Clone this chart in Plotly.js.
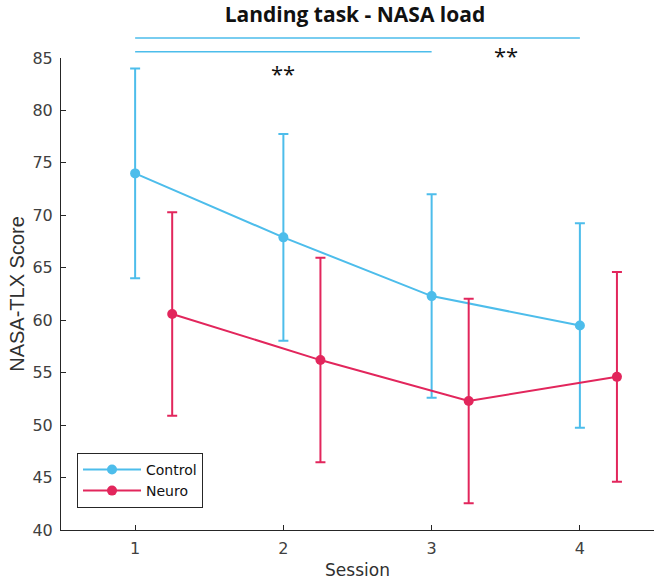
<!DOCTYPE html>
<html>
<head>
<meta charset="utf-8">
<script src="https://cdn.plot.ly/plotly-3.0.1.min.js"></script>
<style>
  body { margin: 0; background: #fff; }
  #graph { width: 661px; height: 584px; }
</style>
</head>
<body>
<div id="graph"></div>
<script>
// values
const sessions = [1, 2, 3, 4]
const neuroOffset = 0.25

const controlMean = [74.0, 67.9, 62.3, 59.5]
const controlErr = [10.0, 9.85, 9.7, 9.75]

const neuroMean = [60.6, 56.2, 52.3, 54.6]
const neuroErr = [9.7, 9.75, 9.75, 10.0]

// significance bars: from session, to session, height (score units)
const sigFrom = [1, 1]
const sigTo = [4, 3]
const sigLevel = [86.9, 85.6]
// star labels: session position and height
const starX = [2, 3.5]
const starY = [83.6, 85.3]
const starText = ['**', '**']

const yTicks = [40, 45, 50, 55, 60, 65, 70, 75, 80, 85]
const yRange = [40, 85]
const blue = '#4DBDEB'
const red = '#E2265C'

function toPaper(v) {
    return (v - yRange[0]) / (yRange[1] - yRange[0])
}

let data = [
    {
        type: 'scatter',
        mode: 'lines+markers',
        name: 'Control',
        x: sessions,
        y: controlMean,
        line: {color: blue, width: 2},
        marker: {color: blue, size: 10},
        error_y: {type: 'data', array: controlErr, visible: true, color: blue, thickness: 2, width: 5}
    },
    {
        type: 'scatter',
        mode: 'lines+markers',
        name: 'Neuro',
        x: sessions.map(s => s + neuroOffset),
        y: neuroMean,
        line: {color: red, width: 2},
        marker: {color: red, size: 10},
        error_y: {type: 'data', array: neuroErr, visible: true, color: red, thickness: 2, width: 5}
    }
]

let shapes = sigFrom.map((x0, i) => ({
    type: 'line',
    xref: 'x',
    yref: 'paper',
    x0: x0,
    x1: sigTo[i],
    y0: toPaper(sigLevel[i]),
    y1: toPaper(sigLevel[i]),
    line: {color: blue, width: 1.5}
}))

let annotations = starX.map((x, i) => ({
    xref: 'x',
    yref: 'paper',
    x: x,
    y: toPaper(starY[i]),
    text: starText[i],
    showarrow: false,
    yanchor: 'middle',
    font: {family: 'Open Sans, sans-serif', size: 22, color: '#111'}
}))

const tickFont = {family: 'DejaVu Sans, sans-serif', size: 16, color: '#404040'}

let layout = {
    width: 661,
    height: 584,
    margin: {l: 61, r: 7, t: 58, b: 54},
    paper_bgcolor: '#fff',
    plot_bgcolor: '#fff',
    title: {
        text: '<b>Landing task - NASA load</b>',
        font: {family: 'Open Sans, sans-serif', size: 21, color: '#111'},
        x: 0.537,
        xanchor: 'center',
        y: 0.975,
        yanchor: 'middle',
        yref: 'container'
    },
    xaxis: {
        range: [0.5, 4.5],
        tickvals: sessions,
        ticktext: sessions.map(String),
        ticks: 'inside',
        ticklen: 5,
        tickcolor: '#262626',
        ticklabelstandoff: 4,
        showgrid: false,
        zeroline: false,
        showline: true,
        linecolor: '#262626',
        linewidth: 1,
        tickfont: tickFont,
        title: {text: 'Session', font: {family: 'DejaVu Sans, sans-serif', size: 17, color: '#303030'}, standoff: 6}
    },
    yaxis: {
        range: yRange,
        tickvals: yTicks,
        ticks: 'inside',
        ticklen: 5,
        tickcolor: '#262626',
        ticklabelstandoff: 4,
        showgrid: false,
        zeroline: false,
        showline: true,
        linecolor: '#262626',
        linewidth: 1,
        tickfont: tickFont,
        title: {text: 'NASA-TLX Score', font: {family: 'Liberation Sans, Arial, sans-serif', size: 20, color: '#303030'}, standoff: 2}
    },
    showlegend: true,
    legend: {
        x: 0.027,
        y: 0.047,
        xanchor: 'left',
        yanchor: 'bottom',
        bgcolor: '#fff',
        bordercolor: '#262626',
        borderwidth: 1,
        font: {family: 'DejaVu Sans, sans-serif', size: 14, color: '#111'},
        tracegroupgap: 0,
        itemwidth: 58
    },
    shapes: shapes,
    annotations: annotations
}

Plotly.newPlot('graph', data, layout, {displayModeBar: false, staticPlot: true})
</script>
</body>
</html>
